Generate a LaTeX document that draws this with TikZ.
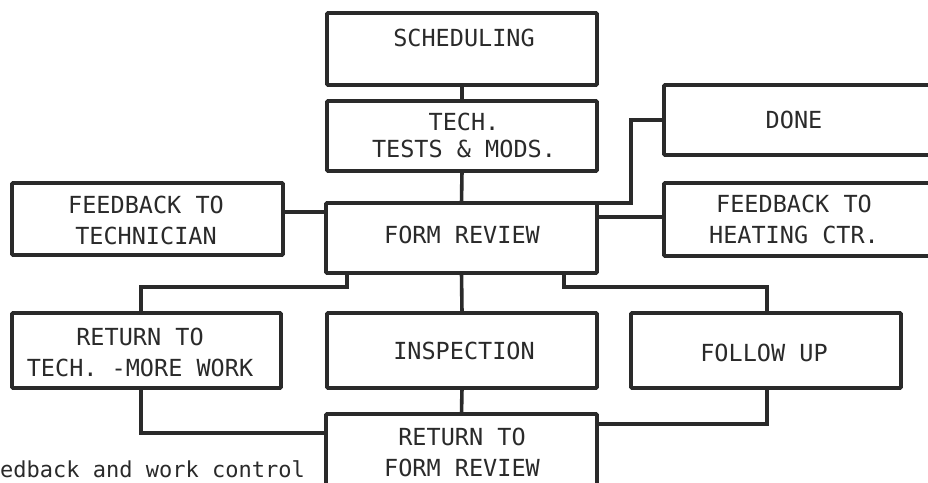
\documentclass[tikz,border=0pt]{standalone}
\usepackage{fontspec}
\newfontfamily\plotfont{DejaVu Sans Mono}
\definecolor{ink}{HTML}{2A2A2A}
\begin{document}
\begin{tikzpicture}[x=1pt,y=-1pt,
  box/.style={draw=ink, line width=3.6pt, inner sep=0pt, outer sep=0pt, rounded corners=1pt},
  wire/.style={draw=ink, line width=3.6pt, line join=miter},
  txt/.style={font=\plotfont\fontsize{23.5}{31}\selectfont, text=ink, align=center, inner sep=0pt},
  captxt/.style={font=\plotfont\fontsize{22}{26}\selectfont, text=ink, inner sep=0pt, anchor=base west}]
\clip (0,0) rectangle (928,482);
\fill[white] (0,0) rectangle (928,482);

% boxes
\node[box, minimum width=270pt, minimum height=72pt] (sched)  at (462,49)    {};
\node[box, minimum width=270pt, minimum height=70pt] (tech)   at (462,136)   {};
\node[box, minimum width=271pt, minimum height=70pt] (form)   at (461.5,238) {};
\node[box, minimum width=271pt, minimum height=72pt] (fbt)    at (147.5,219) {};
\node[box, minimum width=296pt, minimum height=70pt] (done)   at (812,120)   {};
\node[box, minimum width=296pt, minimum height=73pt] (fbh)    at (812,219.5) {};
\node[box, minimum width=269pt, minimum height=75pt] (rtech)  at (146.5,350.5) {};
\node[box, minimum width=270pt, minimum height=75pt] (insp)   at (462,350.5) {};
\node[box, minimum width=270pt, minimum height=75pt] (follow) at (766,350.5) {};
\node[box, minimum width=271pt, minimum height=106pt] (rform) at (461.5,467) {};

% box texts
\node[txt] (tsched)  at (464,38)  {SCHEDULING};
\node[txt] (ttech)   at (464,135) {TECH.\\[-4pt]TESTS \& MODS.};
\node[txt] (tform)   at (462,235) {FORM REVIEW};
\node[txt] (tfbt)    at (146,220) {FEEDBACK TO\\TECHNICIAN};
\node[txt] (tdone)   at (794,120) {DONE};
\node[txt] (tfbh)    at (794,219) {FEEDBACK TO\\HEATING CTR.};
\node[txt] (trtech)  at (140,352) {RETURN TO\\TECH. -MORE WORK};
\node[txt] (tinsp)   at (464,351) {INSPECTION};
\node[txt] (tfollow) at (764,353) {FOLLOW UP};
\node[txt] (trform)  at (462,452) {RETURN TO\\FORM REVIEW};

% bend points of the connectors
\coordinate (dk) at (631,160);
\coordinate (fl) at (300,212);
\coordinate (fr) at (630,217);
\coordinate (bl) at (347,287);
\coordinate (rl) at (141,287);
\coordinate (br) at (564,287);
\coordinate (rr) at (767,287);
\coordinate (fb) at (767,424);
\coordinate (lb) at (141,433);

% connectors
\draw[wire] (sched.south) -- (tech.north);
\draw[wire] (tech.south) -- (form.north);
\draw[wire] (fl -| fbt.east) -- (fl -| form.west);
\draw[wire] (form.north east) -- (form.north east -| dk) -- (dk |- done.west) -- (done.west);
\draw[wire] (fr -| form.east) -- (fr -| fbh.west);
\draw[wire] (bl |- form.south) -- (bl) -- (rl) -- (rl |- rtech.north);
\draw[wire] (form.south) -- (insp.north);
\draw[wire] (br |- form.south) -- (br) -- (rr) -- (rr |- follow.north);
\draw[wire] (insp.south) -- (rform.north);
\draw[wire] (fb |- follow.south) -- (fb) -- (fb -| rform.east);
\draw[wire] (lb |- rtech.south) -- (lb) -- (lb -| rform.west);

% caption
\node[captxt] (caption) at (0,477) {edback and work control};
\end{tikzpicture}
\end{document}
